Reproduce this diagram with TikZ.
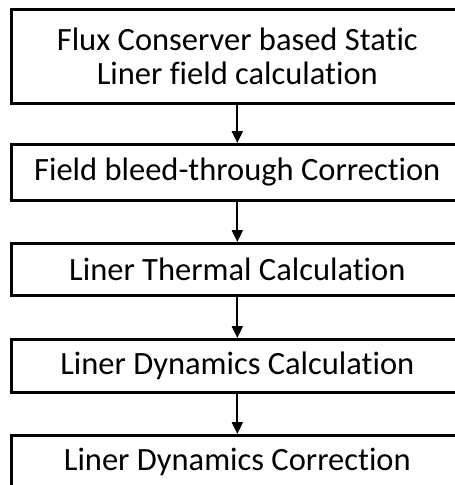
\documentclass[tikz,border=0pt]{standalone}
\usepackage{fontspec}
\setmainfont[Ligatures={NoCommon}]{Carlito}
\usetikzlibrary{arrows.meta}
\begin{document}
\begin{tikzpicture}[x=1pt,y=-1pt,
  box/.style={draw=black,line width=2.6pt,fill=white,minimum width=452pt,inner sep=0pt,
    align=center,font=\fontsize{32.5}{34}\selectfont,anchor=north west},
  flow/.style={line width=2pt,-{Triangle[width=11pt,length=12pt]}}]
\useasboundingbox (0,0) rectangle (455,485);
\clip (0,0) rectangle (455,485);
\node[box,minimum height=94pt] (b1) at (10,8) {Flux Conserver based Static\\Liner field calculation};
\node[box,minimum height=56pt] (b2) at (10,143) {Field bleed-through Correction};
\node[box,minimum height=52pt] (b3) at (10,242) {Liner Thermal Calculation};
\node[box,minimum height=53pt] (b4) at (10,338) {Liner Dynamics Calculation};
\node[box,minimum height=54pt] (b5) at (10,434) {Liner Dynamics Correction};
\draw[flow] (b1.south) -- (b2.north);
\draw[flow] (b2.south) -- (b3.north);
\draw[flow] (b3.south) -- (b4.north);
\draw[flow] (b4.south) -- (b5.north);
\end{tikzpicture}
\end{document}
